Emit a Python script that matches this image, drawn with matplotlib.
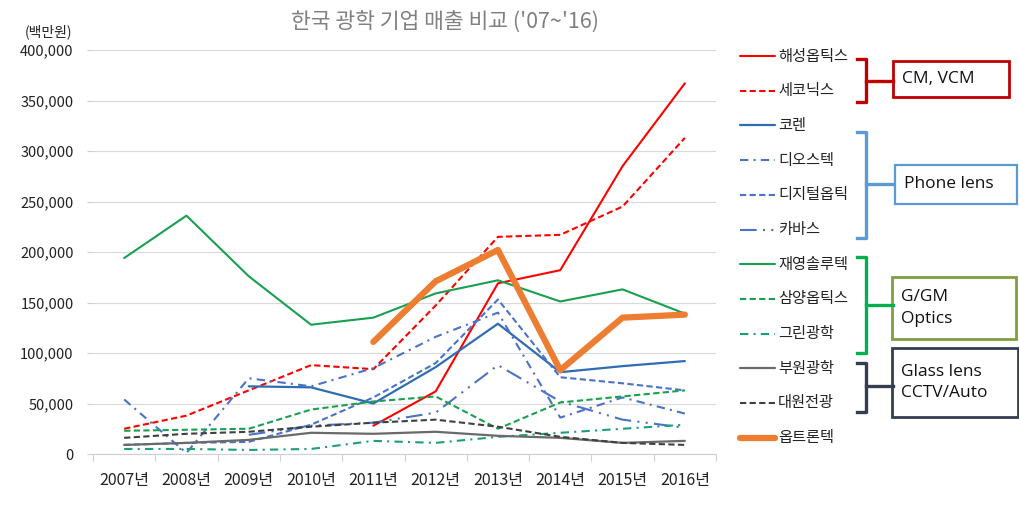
import numpy as np
import matplotlib
matplotlib.use("Agg")
import matplotlib.pyplot as plt
from matplotlib.lines import Line2D
from matplotlib.patches import Rectangle
from matplotlib.ticker import FuncFormatter, MultipleLocator

plt.rcParams["font.family"] = ["Noto Sans CJK KR", "DejaVu Sans"]

nan = np.nan
years = ["2007년", "2008년", "2009년", "2010년", "2011년",
         "2012년", "2013년", "2014년", "2015년", "2016년"]

haesung = [nan, nan, nan, nan, 28000, 62000, 169000, 182000, 285000, 367000]
sekonix = [25000, 38000, 63000, 88000, 84000, 147000, 215000, 217000, 245000, 313000]
kolen = [nan, nan, 67000, 66000, 50000, 86000, 129000, 81000, 87000, 92000]
diostech = [54000, 1000, 75000, 67000, 85000, 116000, 140000, 36000, 56000, 40000]
digital = [9000, 11000, 12000, 29000, 56000, 90000, 153000, 76000, 70000, 63000]
kavas = [nan, nan, 19000, 28000, 31000, 41000, 88000, 52000, 34000, 26000]
jaeyoung = [194000, 236000, 176000, 128000, 135000, 159000, 172000, 151000, 163000, 139000]
samyang = [23000, 24000, 25000, 44000, 52000, 57000, 25000, 51000, 57000, 63000]
green = [5000, 5000, 4000, 5000, 13000, 11000, 17000, 21000, 25000, 29000]
buwon = [9000, 11000, 14000, 21000, 20000, 22000, 18000, 16000, 11000, 13000]
daewon = [16000, 20000, 22000, 27000, 31000, 34000, 27000, 17000, 11000, 9000]
optrontec = [nan, nan, nan, nan, 111000, 171000, 202000, 83000, 135000, 138000]

names = ["해성옵틱스", "세코닉스", "코렌", "디오스텍", "디지털옵틱", "카바스",
         "재영솔루텍", "삼양옵틱스", "그린광학", "부원광학", "대원전광", "옵트론텍"]
values = [haesung, sekonix, kolen, diostech, digital, kavas,
          jaeyoung, samyang, green, buwon, daewon, optrontec]

# colour, width, dash pattern (None = solid)
styles = [
    ("#FF0000", 1.5, None),
    ("#FF0000", 1.5, (3, 1.6)),
    ("#2E6DB4", 1.6, None),
    ("#4A72C8", 1.5, (4, 2.5, 1, 2.5)),
    ("#4A72C8", 1.5, (3, 1.6)),
    ("#4A72C8", 1.5, (8, 3, 1, 3, 1, 3)),
    ("#18A050", 1.5, None),
    ("#18A050", 1.5, (3, 1.6)),
    ("#1A9F7A", 1.5, (4, 2.5, 1, 2.5)),
    ("#6A6A6A", 1.6, None),
    ("#404040", 1.5, (3, 1.6)),
    ("#ED7D31", 4.5, None),
]

W, H = 1019, 515
fig = plt.figure(figsize=(W / 100, H / 100), dpi=100)
ax = fig.add_axes([93 / W, (H - 454) / H, 623 / W, 404 / H])

x = np.arange(len(years))
for name, v, (c, lw, ds) in zip(names, values, styles):
    ln, = ax.plot(x, v, color=c, lw=lw, solid_capstyle="round",
                  dash_capstyle="butt", label=name)
    if ds:
        ln.set_dashes(ds)

ax.set_xlim(-0.5, len(years) - 0.5)
ax.set_ylim(0, 400000)
ax.yaxis.set_major_locator(MultipleLocator(50000))
ax.yaxis.set_major_formatter(FuncFormatter(lambda v, p: f"{int(v):,}"))
ax.set_xticks(x)
ax.set_xticklabels(years, fontsize=11.5, color="#222222")
ax.set_xticks(np.arange(-0.5, len(years)), minor=True)
ax.tick_params(axis="x", which="major", length=0, pad=13)
ax.tick_params(axis="x", which="minor", length=5, color="#D0D0D0", width=0.8)
ax.tick_params(axis="y", length=4, color="#D0D0D0", width=0.8, pad=10,
               labelsize=10.5, labelcolor="#222222")
ax.grid(axis="y", color="#D9D9D9", lw=0.8)
ax.set_axisbelow(True)
for s in ["top", "right", "left"]:
    ax.spines[s].set_visible(False)
ax.spines["bottom"].set_color("#D0D0D0")

fig.text(445 / W, 1 - 22 / H, "한국 광학 기업 매출 비교 ('07~'16)",
         ha="center", va="center", fontsize=15.5, color="#808080")
fig.text(48 / W, 1 - 32 / H, "(백만원)", ha="center", va="center",
         fontsize=10, color="#222222")


def fx(px):
    return px / W


def fy(py):
    return 1 - py / H


# legend drawn by hand to match the spacing
for i, (name, (c, lw, ds)) in enumerate(zip(names, styles)):
    yy = 56 + i * 34.7
    ln = Line2D([fx(740), fx(775)], [fy(yy), fy(yy)], color=c, lw=lw,
                transform=fig.transFigure, solid_capstyle="round")
    if ds:
        ln.set_dashes(ds)
    fig.add_artist(ln)
    fig.text(fx(778), fy(yy), name, ha="left", va="center", fontsize=11,
             color="#222222")


def bracket(y0, y1, ys, color):
    fig.add_artist(Line2D([fx(857), fx(866), fx(866), fx(857)],
                          [fy(y0), fy(y0), fy(y1), fy(y1)], color=color,
                          lw=2.4, transform=fig.transFigure,
                          solid_joinstyle="round"))
    fig.add_artist(Line2D([fx(866), fx(893)], [fy(ys), fy(ys)], color=color,
                          lw=2.4, transform=fig.transFigure))


def box(x0, y0, x1, y1, text, color, lw):
    fig.add_artist(Rectangle((fx(x0), fy(y1)), fx(x1) - fx(x0),
                             fy(y0) - fy(y1), transform=fig.transFigure,
                             fill=False, ec=color, lw=lw))
    fig.text(fx(x0 + 9), fy((y0 + y1) / 2), text, ha="left", va="center",
             fontsize=12.5, color="#111111", family="Open Sans",
             linespacing=1.45)


bracket(59, 102, 81, "#C00000")
box(893, 61, 1009, 97, "CM, VCM", "#C00000", 2.0)
bracket(132, 238, 184, "#5B9BD5")
box(895, 165, 1017, 204, "Phone lens", "#5B9BD5", 1.6)
bracket(257, 353, 305, "#00B050")
box(892, 277, 1016, 339, "G/GM\nOptics", "#7F9F3F", 2.0)
bracket(363, 412, 386, "#333F50")
box(892, 348, 1018, 417, "Glass lens\nCCTV/Auto", "#333F50", 2.0)

fig.savefig("out.png", dpi=100)
